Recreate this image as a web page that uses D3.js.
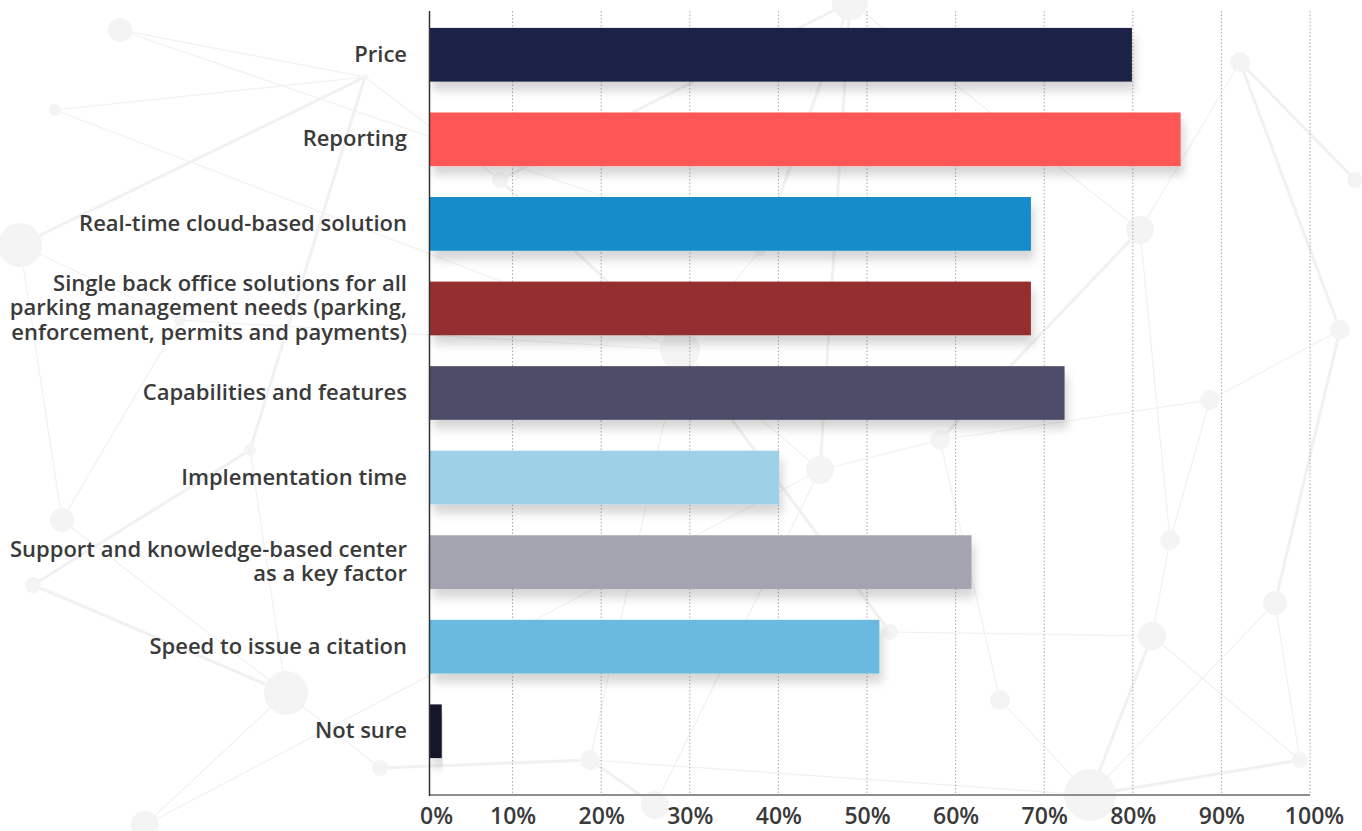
<!DOCTYPE html>
<html>
<head>
<meta charset="utf-8">
<script src="https://cdn.jsdelivr.net/npm/d3@7"></script>
<style>
  html, body { margin: 0; padding: 0; background: #ffffff; }
  svg { display: block; }
  text { font-family: "Open Sans", "Noto Sans", sans-serif; }
</style>
</head>
<body>
<div id="chart"></div>
<script>
// Survey answers: share of respondents naming each factor
const categories = [
  "Price",
  "Reporting",
  "Real-time cloud-based solution",
  "Single back office solutions for all parking management needs (parking, enforcement, permits and payments)",
  "Capabilities and features",
  "Implementation time",
  "Support and knowledge-based center as a key factor",
  "Speed to issue a citation",
  "Not sure"
];
const labelLines = [
  ["Price"],
  ["Reporting"],
  ["Real-time cloud-based solution"],
  ["Single back office solutions for all", "parking management needs (parking,", "enforcement, permits and payments)"],
  ["Capabilities and features"],
  ["Implementation time"],
  ["Support and knowledge-based center", "as a key factor"],
  ["Speed to issue a citation"],
  ["Not sure"]
];
const values = [79.9, 85.4, 68.5, 68.5, 72.3, 40.1, 61.8, 51.4, 2.0];
const barColors = ["#1f2244", "#ff5757", "#138cca", "#952f2f", "#4e4e69", "#9ed0e8", "#a4a3b0", "#6abadf", "#16162b"];
const tickValues = [0, 10, 20, 30, 40, 50, 60, 70, 80, 90, 100];
const tickLabels = ["0%", "10%", "20%", "30%", "40%", "50%", "60%", "70%", "80%", "90%", "100%"];

// Decorative network backdrop: nodes [x, y, r] and links between node indices
const bgNodes = [
  [20, 245, 22], [55, 110, 6], [120, 30, 12], [365, 77, 3], [62, 520, 12], [33, 585, 8],
  [286, 693, 22], [145, 825, 14], [380, 768, 8], [590, 760, 10], [680, 350, 20],
  [820, 470, 14], [850, 2, 18], [1140, 230, 14], [1240, 62, 10], [1275, 603, 12],
  [1170, 540, 10], [1152, 636, 14], [1090, 795, 26], [940, 440, 10], [1210, 400, 10],
  [1340, 330, 10], [1355, 180, 8], [500, 180, 8], [250, 450, 6], [655, 805, 14],
  [890, 632, 8], [1000, 700, 10], [760, 250, 6], [1300, 760, 8], [180, 320, 6]
];
const bgLinks = [
  [0, 3], [1, 3], [2, 3], [3, 24], [0, 4], [4, 6], [5, 6], [6, 7], [6, 8], [8, 9],
  [9, 10], [10, 11], [11, 12], [12, 13], [13, 14], [14, 21], [13, 16], [16, 17], [17, 18],
  [18, 9], [11, 19], [19, 13], [19, 20], [20, 21], [21, 15], [15, 18], [16, 20],
  [10, 23], [23, 3], [24, 6], [25, 9], [25, 11], [26, 17], [26, 10], [27, 18], [27, 19],
  [28, 12], [28, 10], [29, 15], [29, 18], [30, 0], [30, 10], [22, 14], [7, 11], [2, 28],
  [5, 24], [4, 30], [17, 29], [23, 12], [1, 10]
];

const width = 1362, height = 831;
const svg = d3.select("#chart").append("svg")
  .attr("width", width).attr("height", height);

const defs = svg.append("defs");
const shadow = defs.append("filter").attr("id", "barShadow")
  .attr("x", "-5%").attr("y", "-30%").attr("width", "115%").attr("height", "180%");
shadow.append("feDropShadow")
  .attr("dx", 3).attr("dy", 9).attr("stdDeviation", 5)
  .attr("flood-color", "#000").attr("flood-opacity", 0.16);

// backdrop
const bg = svg.append("g").attr("class", "backdrop");
bg.selectAll("line").data(bgLinks).join("line")
  .attr("x1", d => bgNodes[d[0]][0]).attr("y1", d => bgNodes[d[0]][1])
  .attr("x2", d => bgNodes[d[1]][0]).attr("y2", d => bgNodes[d[1]][1])
  .attr("stroke", "#f1f1f1").attr("stroke-width", (d, i) => (i % 3 === 0 ? 3 : 1.2));
bg.selectAll("circle").data(bgNodes).join("circle")
  .attr("cx", d => d[0]).attr("cy", d => d[1]).attr("r", d => d[2])
  .attr("fill", "#f4f4f4");

// scales
const x = d3.scaleLinear().domain([0, 100]).range([424, 1310]);
const y = d3.scaleBand().domain(categories).range([11, 775]).paddingInner(0.365).paddingOuter(0.2);
const axisX = 430;
const plotTop = 11, plotBottom = 795;

// dotted gridlines
svg.append("g").selectAll("line")
  .data(tickValues.filter(v => v > 0)).join("line")
  .attr("x1", d => x(d)).attr("x2", d => x(d))
  .attr("y1", plotTop).attr("y2", plotBottom)
  .attr("stroke", "#a8a8a8").attr("stroke-width", 1)
  .attr("stroke-dasharray", "1.5,2");

// bars
svg.append("g").selectAll("rect")
  .data(categories).join("rect")
  .attr("x", axisX)
  .attr("y", d => y(d))
  .attr("width", (d, i) => x(values[i]) - axisX)
  .attr("height", y.bandwidth())
  .attr("fill", (d, i) => barColors[i])
  .attr("filter", "url(#barShadow)");

// category labels
const lineH = 24.5;
const labels = svg.append("g").selectAll("text")
  .data(categories).join("text")
  .attr("text-anchor", "end")
  .attr("font-size", 22)
  .attr("font-weight", 600)
  .attr("fill", "#3a3a3a")
  .attr("transform", d => `translate(407, ${y(d) + y.bandwidth() / 2})`);
labels.each(function (d, i) {
  const lines = labelLines[i];
  const off = -(lines.length - 1) / 2 * lineH;
  d3.select(this).selectAll("tspan").data(lines).join("tspan")
    .attr("x", 0)
    .attr("y", (l, j) => off + j * lineH)
    .attr("dy", "0.32em")
    .text(l => l);
});

// value axis
const xAxis = d3.axisBottom(x).tickValues(tickValues)
  .tickFormat((d, i) => tickLabels[i]).tickSize(0).tickPadding(13);
const gx = svg.append("g").attr("transform", `translate(0, ${plotBottom})`).call(xAxis);
gx.select(".domain").remove();
gx.append("line").attr("x1", axisX - 1).attr("x2", x(100)).attr("y1", 0).attr("y2", 0)
  .attr("stroke", "#8f8f8f").attr("stroke-width", 2);
gx.selectAll(".tick text")
  .attr("font-size", 23).attr("font-weight", 600)
  .attr("font-family", "'Open Sans', sans-serif")
  .attr("fill", "#3a3a3a")
  .attr("dx", d => (d === 0 ? 12 : d === 100 ? 4 : 0));

// category axis line
svg.append("line")
  .attr("x1", axisX - 0.5).attr("x2", axisX - 0.5)
  .attr("y1", plotTop).attr("y2", plotBottom + 1)
  .attr("stroke", "#333").attr("stroke-width", 1.5);
</script>
</body>
</html>
